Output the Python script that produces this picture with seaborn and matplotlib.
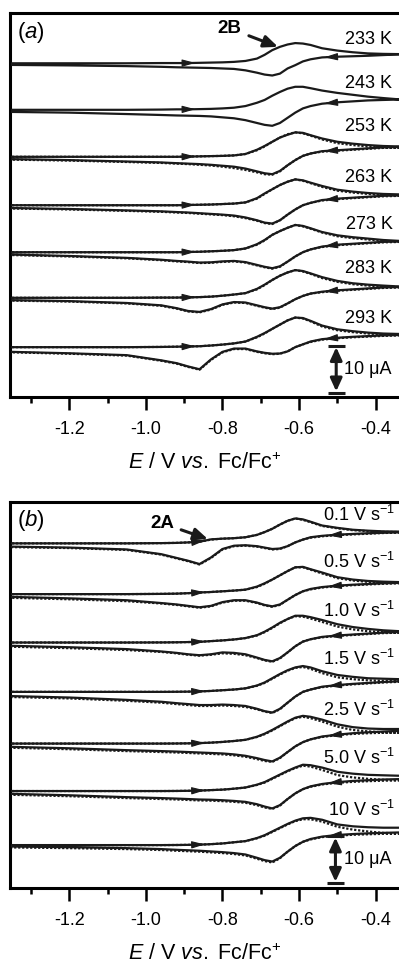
import numpy as np
import seaborn as sns
import matplotlib.pyplot as plt

sns.set_theme(style='ticks')
plt.rcParams['font.family'] = ['Liberation Sans', 'DejaVu Sans']
plt.rcParams['mathtext.fontset'] = 'custom'
plt.rcParams['mathtext.rm'] = 'Liberation Sans'
plt.rcParams['mathtext.it'] = 'Liberation Sans:italic'
plt.rcParams['axes.unicode_minus'] = False
plt.rcParams['text.color'] = 'black'
plt.rcParams['axes.labelcolor'] = 'black'
plt.rcParams['axes.edgecolor'] = 'black'
plt.rcParams['xtick.color'] = 'black'

# potential grid (V vs Fc/Fc+), forward scan left->right, reverse right->left
E_GRID = [-1.35, -1.20, -1.05, -0.96, -0.92, -0.89, -0.86, -0.83, -0.80, -0.77,
          -0.74, -0.71, -0.69, -0.67, -0.65, -0.63, -0.61, -0.59, -0.57, -0.54,
          -0.50, -0.46, -0.42, -0.38, -0.335]

# ---- panel (a): temperatures, current in uA relative to each trace baseline
temps = ['233 K', '243 K', '253 K', '263 K', '273 K', '283 K', '293 K']
offsets_a = [-10.7, -20.6, -30.6, -40.9, -50.9, -60.6, -71.1]

a233_fwd = [0, 0, 0, 0.05, 0.05, 0.05, 0.1, 0.15, 0.2, 0.3, 0.5, 1.0, 1.8, 2.8, 3.5, 4.0, 4.3, 4.2, 3.9, 3.2, 2.7, 2.35, 2.1, 2.0, 1.95]
a233_rev = [-0.35, -0.45, -0.6, -0.75, -0.85, -0.9, -0.95, -1.0, -1.1, -1.2, -1.5, -2.0, -2.4, -2.6, -2.2, -1.1, -0.4, 0.4, 0.85, 1.25, 1.4, 1.5, 1.6, 1.75, 1.9]
a243_fwd = [0, 0, 0, 0.05, 0.1, 0.1, 0.15, 0.2, 0.3, 0.45, 0.8, 1.5, 2.1, 3.0, 3.8, 4.5, 4.9, 4.9, 4.6, 4.1, 3.6, 3.2, 2.8, 2.5, 2.2]
a243_rev = [-0.45, -0.6, -0.9, -1.1, -1.2, -1.25, -1.3, -1.4, -1.6, -1.8, -2.2, -2.8, -3.2, -3.4, -2.8, -1.7, -0.6, 0.3, 0.8, 1.3, 1.6, 1.8, 2.0, 2.1, 2.2]
a253_fwd = [0, 0, 0, 0, 0, 0.05, 0.1, 0.15, 0.2, 0.3, 0.6, 1.5, 2.3, 3.2, 4.1, 4.7, 5.2, 5.1, 4.6, 3.9, 3.2, 2.8, 2.5, 2.3, 2.2]
a253_rev = [-0.5, -0.7, -1.0, -1.2, -1.35, -1.45, -1.55, -1.7, -1.9, -2.1, -2.5, -3.1, -3.5, -3.7, -3.0, -1.8, -0.7, 0.2, 0.7, 1.2, 1.4, 1.6, 1.8, 2.0, 2.1]
a263_fwd = [0, 0, 0, 0, 0, 0.05, 0.1, 0.15, 0.25, 0.35, 0.6, 1.5, 2.5, 3.4, 4.3, 5.0, 5.5, 5.3, 4.8, 4.1, 3.3, 2.9, 2.6, 2.4, 2.3]
a263_rev = [-0.6, -0.8, -1.1, -1.3, -1.45, -1.55, -1.7, -1.85, -2.0, -2.2, -2.6, -3.2, -3.7, -3.9, -3.2, -2.0, -0.9, 0.0, 0.5, 1.1, 1.4, 1.6, 1.8, 2.0, 2.1]
a273_fwd = [0, 0, 0, 0, 0, 0.05, 0.1, 0.2, 0.3, 0.45, 0.8, 1.7, 2.6, 3.7, 4.5, 5.2, 5.8, 5.6, 5.1, 4.3, 3.6, 3.2, 2.9, 2.6, 2.4]
a273_rev = [-0.5, -0.8, -1.2, -1.6, -1.85, -2.0, -2.2, -2.15, -1.95, -1.85, -2.1, -2.7, -3.1, -3.4, -3.0, -2.0, -0.9, 0.0, 0.6, 1.2, 1.6, 1.8, 2.0, 2.2, 2.3]
a283_fwd = [0, 0, 0, 0.05, 0.05, 0.1, 0.15, 0.25, 0.45, 0.7, 1.0, 1.9, 2.8, 3.8, 4.7, 5.4, 5.9, 5.7, 5.2, 4.4, 3.6, 3.1, 2.8, 2.6, 2.4]
a283_rev = [-0.5, -0.7, -1.1, -1.6, -2.2, -2.8, -3.0, -2.4, -1.4, -0.9, -1.0, -1.6, -2.0, -2.3, -2.0, -1.2, -0.3, 0.4, 0.9, 1.3, 1.6, 1.8, 2.0, 2.2, 2.3]
a293_fwd = [0, 0, 0, 0.05, 0.1, 0.15, 0.2, 0.35, 0.55, 0.8, 1.2, 2.2, 3.0, 3.9, 4.8, 5.7, 6.3, 6.2, 5.6, 4.6, 3.8, 3.4, 3.1, 2.9, 2.8]
a293_rev = [-1.0, -1.3, -1.7, -2.8, -3.4, -4.1, -4.7, -2.6, -1.0, -0.3, -0.3, -0.9, -1.2, -1.4, -1.35, -0.9, 0.0, 0.6, 1.2, 1.7, 2.0, 2.2, 2.35, 2.5, 2.6]

# simulated traces (dotted), only 253-293 K
a253_sim_fwd = [0, 0, 0, 0, 0, 0.05, 0.1, 0.15, 0.2, 0.3, 0.6, 1.4, 2.2, 3.2, 4.1, 4.8, 5.2, 5.0, 4.5, 3.7, 2.9, 2.5, 2.2, 2.0, 1.9]
a253_sim_rev = [-0.6, -0.8, -1.1, -1.3, -1.45, -1.55, -1.7, -1.85, -2.1, -2.4, -2.8, -3.3, -3.7, -3.8, -3.1, -1.8, -0.7, 0.2, 0.7, 1.1, 1.3, 1.5, 1.7, 1.9, 2.0]
a263_sim_fwd = [0, 0, 0, 0, 0, 0.05, 0.1, 0.15, 0.25, 0.35, 0.6, 1.4, 2.4, 3.4, 4.3, 5.0, 5.5, 5.2, 4.7, 3.9, 3.1, 2.7, 2.4, 2.2, 2.1]
a263_sim_rev = [-0.7, -0.9, -1.2, -1.4, -1.55, -1.65, -1.8, -1.95, -2.1, -2.35, -2.75, -3.3, -3.8, -4.0, -3.2, -2.0, -0.9, 0.0, 0.5, 1.0, 1.3, 1.5, 1.7, 1.9, 2.0]
a273_sim_fwd = [0, 0, 0, 0, 0, 0.05, 0.1, 0.2, 0.3, 0.45, 0.8, 1.6, 2.5, 3.7, 4.5, 5.2, 5.8, 5.5, 5.0, 4.2, 3.4, 3.0, 2.7, 2.4, 2.3]
a273_sim_rev = [-0.6, -0.9, -1.3, -1.7, -1.95, -2.1, -2.3, -2.25, -2.05, -1.95, -2.2, -2.8, -3.2, -3.5, -3.1, -2.0, -0.9, 0.0, 0.6, 1.1, 1.5, 1.7, 1.9, 2.1, 2.2]
a283_sim_fwd = [0, 0, 0, 0.05, 0.05, 0.1, 0.15, 0.25, 0.45, 0.7, 1.0, 1.8, 2.7, 3.8, 4.7, 5.4, 5.9, 5.6, 5.1, 4.2, 3.4, 2.9, 2.6, 2.4, 2.3]
a283_sim_rev = [-0.6, -0.8, -1.2, -1.7, -2.3, -2.9, -3.1, -2.5, -1.5, -1.0, -1.1, -1.7, -2.1, -2.4, -2.1, -1.2, -0.3, 0.4, 0.9, 1.2, 1.5, 1.7, 1.9, 2.1, 2.2]
a293_sim_fwd = [0, 0, 0, 0.05, 0.1, 0.15, 0.2, 0.35, 0.55, 0.8, 1.2, 2.1, 2.9, 3.9, 4.8, 5.7, 6.3, 6.1, 5.5, 4.4, 3.6, 3.2, 2.9, 2.7, 2.6]
a293_sim_rev = [-1.1, -1.4, -1.8, -2.9, -3.5, -4.2, -4.8, -2.7, -1.1, -0.4, -0.4, -1.0, -1.3, -1.5, -1.4, -0.9, 0.0, 0.6, 1.1, 1.6, 1.9, 2.1, 2.25, 2.4, 2.5]

# ---- panel (b): scan rates
rates = ['0.1', '0.5', '1.0', '1.5', '2.5', '5.0', '10']
offsets_b = [-8.8, -19.6, -29.9, -40.4, -51.4, -61.5, -73.0]

b01_fwd = [0, 0, 0, 0.05, 0.1, 0.2, 0.35, 0.85, 1.0, 1.1, 1.3, 1.8, 2.4, 3.1, 4.0, 4.8, 5.3, 5.1, 4.6, 3.8, 3.3, 2.9, 2.7, 2.55, 2.5]
b01_rev = [-0.7, -0.9, -1.3, -2.3, -3.1, -3.7, -4.4, -3.0, -1.2, -0.5, -0.4, -0.6, -0.9, -1.2, -1.1, -0.6, 0.2, 0.8, 1.3, 1.6, 1.85, 2.0, 2.15, 2.25, 2.35]
b05_fwd = [0, 0, 0, 0.05, 0.1, 0.2, 0.35, 0.45, 0.6, 0.75, 0.95, 1.6, 2.3, 3.1, 4.0, 4.9, 5.7, 5.8, 5.3, 4.6, 3.6, 3.1, 2.8, 2.65, 2.55]
b05_rev = [-0.6, -0.9, -1.3, -1.9, -2.2, -2.5, -2.8, -2.5, -1.7, -1.3, -1.3, -1.8, -2.3, -2.6, -2.2, -1.2, -0.2, 0.6, 1.1, 1.5, 1.8, 2.0, 2.15, 2.3, 2.4]
b10_fwd = [0, 0, 0, 0.02, 0.05, 0.1, 0.15, 0.3, 0.45, 0.65, 0.95, 1.55, 2.3, 3.2, 4.2, 5.0, 5.7, 5.7, 5.4, 4.8, 3.9, 3.3, 2.9, 2.6, 2.4]
b10_rev = [-0.7, -1.0, -1.4, -1.9, -2.2, -2.5, -2.7, -2.5, -2.1, -2.2, -2.5, -3.2, -3.7, -4.0, -3.3, -2.1, -0.8, 0.2, 0.7, 1.2, 1.5, 1.7, 1.9, 2.1, 2.25]
b15_fwd = [0, 0, 0, 0, 0.02, 0.05, 0.1, 0.2, 0.35, 0.5, 0.75, 1.35, 2.0, 2.9, 3.8, 4.6, 5.2, 5.5, 5.2, 4.4, 3.6, 3.2, 2.9, 2.8, 2.7]
b15_rev = [-0.9, -1.2, -1.7, -2.1, -2.4, -2.6, -2.8, -2.8, -2.7, -2.8, -3.0, -3.6, -4.1, -4.4, -3.6, -2.3, -1.0, 0.0, 0.5, 1.1, 1.45, 1.7, 1.9, 2.1, 2.25]
b25_fwd = [0, 0, 0, 0, 0.02, 0.05, 0.1, 0.2, 0.35, 0.55, 0.8, 1.45, 2.1, 2.9, 3.8, 4.7, 5.5, 5.9, 5.7, 5.1, 4.1, 3.5, 3.2, 3.1, 3.1]
b25_rev = [-0.7, -1.0, -1.4, -1.6, -1.7, -1.8, -1.9, -2.0, -2.1, -2.3, -2.6, -3.1, -3.5, -3.8, -3.0, -1.8, -0.6, 0.3, 0.9, 1.5, 1.9, 2.2, 2.4, 2.55, 2.7]
b50_fwd = [0, 0, 0, 0, 0.02, 0.05, 0.1, 0.2, 0.3, 0.5, 0.75, 1.35, 1.9, 2.7, 3.5, 4.3, 5.0, 5.6, 5.5, 5.0, 4.1, 3.7, 3.45, 3.35, 3.25]
b50_rev = [-0.6, -0.9, -1.3, -1.5, -1.6, -1.7, -1.8, -1.85, -1.95, -2.1, -2.3, -2.8, -3.3, -3.7, -3.0, -1.7, -0.5, 0.4, 1.0, 1.5, 1.9, 2.15, 2.3, 2.45, 2.55]
b100_fwd = [0, 0, 0, 0, 0.02, 0.05, 0.1, 0.2, 0.35, 0.6, 0.85, 1.5, 2.1, 2.9, 3.7, 4.5, 5.2, 5.7, 5.8, 5.4, 4.4, 4.0, 3.8, 3.7, 3.7]
b100_rev = [-0.3, -0.45, -0.65, -0.85, -1.0, -1.1, -1.2, -1.35, -1.5, -1.7, -2.0, -2.7, -3.2, -3.5, -2.7, -1.4, -0.2, 0.7, 1.3, 1.8, 2.15, 2.35, 2.5, 2.6, 2.7]

b01_sim_fwd = [0, 0, 0, 0.05, 0.1, 0.2, 0.35, 0.8, 1.0, 1.1, 1.3, 1.8, 2.4, 3.1, 4.0, 4.8, 5.3, 5.0, 4.5, 3.7, 3.2, 2.8, 2.6, 2.45, 2.4]
b01_sim_rev = [-0.8, -1.0, -1.4, -2.4, -3.2, -3.8, -4.5, -3.1, -1.3, -0.6, -0.5, -0.7, -1.0, -1.3, -1.2, -0.6, 0.2, 0.8, 1.2, 1.5, 1.75, 1.9, 2.05, 2.2, 2.3]
b05_sim_fwd = [0, 0, 0, 0.05, 0.1, 0.2, 0.35, 0.45, 0.6, 0.75, 0.95, 1.5, 2.2, 3.1, 4.0, 4.9, 5.7, 5.7, 5.2, 4.4, 3.4, 2.9, 2.6, 2.5, 2.4]
b05_sim_rev = [-0.8, -1.1, -1.5, -2.0, -2.3, -2.6, -2.9, -2.6, -1.8, -1.4, -1.4, -1.9, -2.4, -2.7, -2.3, -1.2, -0.2, 0.6, 1.0, 1.4, 1.7, 1.9, 2.05, 2.2, 2.3]
b10_sim_fwd = [0, 0, 0, 0.02, 0.05, 0.1, 0.15, 0.3, 0.45, 0.65, 0.95, 1.5, 2.2, 3.1, 4.1, 5.0, 5.6, 5.5, 5.1, 4.4, 3.4, 2.8, 2.4, 2.2, 2.1]
b10_sim_rev = [-0.9, -1.2, -1.6, -2.0, -2.3, -2.6, -2.8, -2.6, -2.3, -2.4, -2.7, -3.3, -3.8, -4.1, -3.4, -2.1, -0.8, 0.2, 0.7, 1.1, 1.4, 1.6, 1.8, 2.0, 2.1]
b15_sim_fwd = [0, 0, 0, 0, 0.02, 0.05, 0.1, 0.2, 0.35, 0.5, 0.75, 1.3, 1.9, 2.8, 3.7, 4.5, 5.1, 5.3, 4.9, 4.0, 3.1, 2.7, 2.45, 2.35, 2.3]
b15_sim_rev = [-1.1, -1.4, -1.9, -2.3, -2.6, -2.8, -3.0, -3.0, -2.9, -3.0, -3.2, -3.7, -4.2, -4.5, -3.7, -2.3, -1.0, 0.0, 0.5, 1.0, 1.35, 1.6, 1.8, 2.0, 2.15]
b25_sim_fwd = [0, 0, 0, 0, 0.02, 0.05, 0.1, 0.2, 0.35, 0.55, 0.8, 1.4, 2.0, 2.8, 3.7, 4.6, 5.4, 5.7, 5.4, 4.7, 3.6, 2.9, 2.6, 2.4, 2.3]
b25_sim_rev = [-0.9, -1.2, -1.6, -1.8, -1.9, -2.0, -2.1, -2.2, -2.3, -2.5, -2.8, -3.3, -3.7, -3.9, -3.1, -1.8, -0.6, 0.3, 0.9, 1.4, 1.8, 2.05, 2.2, 2.3, 2.35]
b50_sim_fwd = [0, 0, 0, 0, 0.02, 0.05, 0.1, 0.2, 0.3, 0.5, 0.75, 1.3, 1.8, 2.6, 3.4, 4.2, 4.9, 5.4, 5.2, 4.5, 3.4, 2.9, 2.6, 2.4, 2.3]
b50_sim_rev = [-0.8, -1.1, -1.5, -1.7, -1.8, -1.9, -2.0, -2.05, -2.15, -2.3, -2.5, -3.0, -3.5, -3.8, -3.1, -1.7, -0.5, 0.4, 0.9, 1.4, 1.75, 1.95, 2.1, 2.2, 2.3]
b100_sim_fwd = [0, 0, 0, 0, 0.02, 0.05, 0.1, 0.2, 0.35, 0.6, 0.85, 1.45, 2.0, 2.8, 3.6, 4.4, 5.1, 5.5, 5.5, 5.0, 3.9, 3.3, 2.9, 2.6, 2.5]
b100_sim_rev = [-0.5, -0.65, -0.85, -1.05, -1.2, -1.3, -1.4, -1.55, -1.7, -1.9, -2.2, -2.9, -3.4, -3.7, -2.8, -1.4, -0.2, 0.7, 1.2, 1.7, 2.0, 2.2, 2.3, 2.4, 2.45]

exp_a = [(a233_fwd, a233_rev), (a243_fwd, a243_rev), (a253_fwd, a253_rev), (a263_fwd, a263_rev),
         (a273_fwd, a273_rev), (a283_fwd, a283_rev), (a293_fwd, a293_rev)]
sim_a = [None, None, (a253_sim_fwd, a253_sim_rev), (a263_sim_fwd, a263_sim_rev),
         (a273_sim_fwd, a273_sim_rev), (a283_sim_fwd, a283_sim_rev), (a293_sim_fwd, a293_sim_rev)]
exp_b = [(b01_fwd, b01_rev), (b05_fwd, b05_rev), (b10_fwd, b10_rev), (b15_fwd, b15_rev),
         (b25_fwd, b25_rev), (b50_fwd, b50_rev), (b100_fwd, b100_rev)]
sim_b = [(b01_sim_fwd, b01_sim_rev), (b05_sim_fwd, b05_sim_rev), (b10_sim_fwd, b10_sim_rev),
         (b15_sim_fwd, b15_sim_rev), (b25_sim_fwd, b25_sim_rev), (b50_sim_fwd, b50_sim_rev),
         (b100_sim_fwd, b100_sim_rev)]

XMIN, XMAX = -1.355, -0.339
PX_PER_UA = 4.7
# label heights above each trace baseline (layout only)
lab_raise_a = [5.0, 5.7, 6.4, 6.0, 5.8, 6.2, 6.2]
lab_raise_b = [6.0, 6.9, 6.7, 7.0, 7.2, 7.0, 7.5]


def draw_cv(ax, fwd, rev, off, dotted=False):
    x = E_GRID + E_GRID[::-1]
    y = [off + v for v in fwd] + [off + v for v in rev[::-1]]
    if dotted:
        sns.lineplot(x=x, y=y, sort=False, estimator=None, ax=ax, color='k',
                     lw=1.6, linestyle=(0, (1.0, 0.8)), zorder=2)
    else:
        sns.lineplot(x=x, y=y, sort=False, estimator=None, ax=ax, color='k',
                     lw=1.6, zorder=3)


def scan_arrow(ax, branch, off, e, direction):
    d = 0.014 * direction
    y0 = off + np.interp(e - d, E_GRID, branch)
    y1 = off + np.interp(e + d, E_GRID, branch)
    ax.annotate('', xy=(e + d, y1), xytext=(e - d, y0),
                arrowprops=dict(arrowstyle='-|>,head_length=0.8,head_width=0.22',
                                color='k', lw=0.8, mutation_scale=10,
                                shrinkA=0, shrinkB=0), zorder=4)


def scale_bar(ax, e, bottom, top):
    ax.annotate('', xy=(e, bottom), xytext=(e, top),
                arrowprops=dict(arrowstyle='<|-|>,head_length=0.7,head_width=0.32',
                                color='k', lw=2.2, mutation_scale=11,
                                shrinkA=1, shrinkB=1))
    ax.hlines([bottom, top], e - 0.022, e + 0.022, color='k', lw=2.2)
    ax.text(-0.483, (bottom + top) / 2, '10 \u03bcA', ha='left', va='center', fontsize=13)


def style_axes(ax, height_px):
    ax.set_xlim(XMIN, XMAX)
    ax.set_ylim(-height_px / PX_PER_UA, 0)
    ax.set_xticks([-1.2, -1.0, -0.8, -0.6, -0.4])
    ax.set_xticklabels(['-1.2', '-1.0', '-0.8', '-0.6', '-0.4'])
    ax.set_xticks([-1.3, -1.1, -0.9, -0.7, -0.5], minor=True)
    ax.set_yticks([])
    ax.set_ylabel('')
    ax.spines['right'].set_visible(False)
    for s in ['left', 'top', 'bottom']:
        ax.spines[s].set_linewidth(2.2)
    ax.tick_params(axis='x', which='major', direction='out', length=9, width=1.8,
                   labelsize=13, pad=8, colors='black')
    ax.tick_params(axis='x', which='minor', direction='out', length=4.5, width=1.8,
                   colors='black')
    ax.set_xlabel(r'$\mathit{E}$ / V $\mathit{vs.}$ Fc/Fc$^{+}$', fontsize=15.5, labelpad=11)


fig = plt.figure(figsize=(3.99, 9.65), dpi=100)
fig.patch.set_facecolor('white')
ax_a = fig.add_axes([10 / 399, (965 - 397) / 965, 389 / 399, 384 / 965])
ax_b = fig.add_axes([10 / 399, (965 - 888) / 965, 389 / 399, 386 / 965])

# panel (a)
for (fwd, rev), sim, off, lab, up in zip(exp_a, sim_a, offsets_a, temps, lab_raise_a):
    if sim is not None:
        draw_cv(ax_a, sim[0], sim[1], off, dotted=True)
    draw_cv(ax_a, fwd, rev, off)
    scan_arrow(ax_a, fwd, off, -0.885, 1)
    scan_arrow(ax_a, rev, off, -0.52, -1)
    ax_a.text(-0.356, off + up, lab, ha='right', va='center', fontsize=13)

scale_bar(ax_a, -0.503, -80.8, -70.8)
ax_a.annotate('2B', xy=(-0.655, -7.2), xytext=(-0.781, -3.3), ha='center', va='center',
              fontsize=13.5, fontweight='bold',
              arrowprops=dict(arrowstyle='-|>,head_length=0.7,head_width=0.3', color='k',
                              lw=2.2, mutation_scale=12, shrinkA=3, shrinkB=0))
ax_a.text(0.018, 0.95, r'($\mathit{a}$)', transform=ax_a.transAxes, ha='left', va='center',
          fontsize=16)
style_axes(ax_a, 384)

# panel (b)
for (fwd, rev), sim, off, lab, up in zip(exp_b, sim_b, offsets_b, rates, lab_raise_b):
    draw_cv(ax_b, sim[0], sim[1], off, dotted=True)
    draw_cv(ax_b, fwd, rev, off)
    scan_arrow(ax_b, fwd, off, -0.86, 1)
    scan_arrow(ax_b, rev, off, -0.51, -1)
    ax_b.text(-0.350, off + up, lab + r' V s$^{-1}$', ha='right', va='center', fontsize=13)

scale_bar(ax_b, -0.505, -81.1, -71.1)
ax_b.annotate('2A', xy=(-0.838, -7.9), xytext=(-0.958, -4.5), ha='center', va='center',
              fontsize=13.5, fontweight='bold',
              arrowprops=dict(arrowstyle='-|>,head_length=0.7,head_width=0.3', color='k',
                              lw=2.2, mutation_scale=12, shrinkA=3, shrinkB=0))
ax_b.text(0.018, 0.953, r'($\mathit{b}$)', transform=ax_b.transAxes, ha='left', va='center',
          fontsize=16)
style_axes(ax_b, 386)

fig.savefig('out.png', dpi=100, facecolor='white')
